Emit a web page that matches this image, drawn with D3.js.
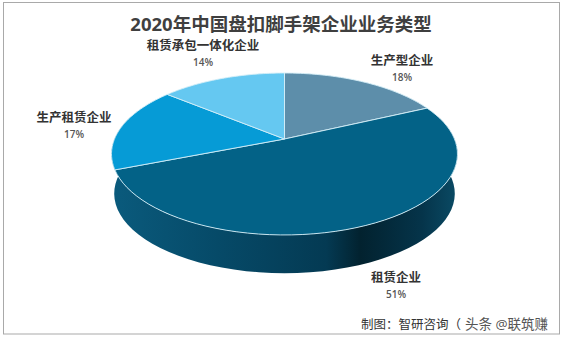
<!DOCTYPE html>
<html>

<head>
    <meta charset="utf-8">
    <title>2020年中国盘扣脚手架企业业务类型</title>
    <script src="https://d3js.org/d3.v7.min.js"></script>
    <style>
        html, body { margin: 0; padding: 0; background: #fff; overflow: hidden; }
        svg { display: block; }
        text { font-family: "Open Sans", "Noto Sans CJK SC", sans-serif; text-anchor: middle; }
        .title { font-size: 18.5px; font-weight: 700; fill: #3f3f3f; }
        .name { font-size: 12.5px; font-weight: 700; fill: #333; }
        .pct { font-size: 10px; font-weight: 600; fill: #555; }
        .source { font-size: 12.5px; fill: #333; text-anchor: start; }
        .mark { font-size: 13.5px; fill: #555; text-anchor: start; }
    </style>
</head>

<body>
    <svg id="chart" width="563" height="339"></svg>

    <script>
        const categories = ["生产型企业", "租赁企业", "生产租赁企业", "租赁承包一体化企业"];
        const shares = [18, 51, 17, 14];
        const colors = ["#5d8eaa", "#036287", "#069bd6", "#65c8f1"];
        const labelSpots = [[402, 61], [396, 278], [74, 118], [203, 46]];

        const svg = d3.select("#chart");

        svg.append("rect")
            .attr("x", 3.5).attr("y", 2.5)
            .attr("width", 556).attr("height", 331.5)
            .attr("fill", "#fff").attr("stroke", "#a9a9a9").attr("stroke-width", 1);

        // the pie is a tilted disc seen in perspective, apex sits above the ellipse centre
        const cx = 284.5, apexY = 139, k = 0.185, sx = 170, sy = 78.2, depth = 40;
        const rim = (a, r = 1, dy = 0) => {
            const X = r * Math.sin(a), Y = r * Math.cos(a), w = 1 + k * Y;
            return [cx + sx * X / w, apexY - sy * Y / w + dy];
        };
        const line = d3.line();
        const arcPts = (a0, a1, r, dy) => d3.range(0, 61).map(i => rim(a0 + (a1 - a0) * i / 60, r, dy));

        const defs = svg.append("defs");
        const grad = defs.append("linearGradient").attr("id", "side")
            .attr("gradientUnits", "userSpaceOnUse")
            .attr("x1", 115).attr("x2", 456).attr("y1", 0).attr("y2", 0);
        [[0, "#0a5a7c"], [0.3, "#064a68"], [0.62, "#043a53"], [0.72, "#02222f"], [0.9, "#05344a"], [1, "#0a4a64"]]
            .forEach(s => grad.append("stop").attr("offset", s[0]).attr("stop-color", s[1]));

        // side wall, only the front of the disc shows
        svg.append("path")
            .attr("d", line(arcPts(Math.PI * 0.4, Math.PI * 1.6, 1, 0).concat(arcPts(Math.PI * 1.6, Math.PI * 0.4, 0.985, depth))) + "Z")
            .attr("fill", "url(#side)");

        const pie = d3.pie().sort(null);
        const slices = pie(shares);

        svg.selectAll("path.slice").data(slices)
            .join("path")
            .attr("class", "slice")
            .attr("d", d => line([rim(0, 0)].concat(arcPts(d.startAngle, d.endAngle, 1, 0))) + "Z")
            .attr("fill", (d, i) => colors[i])
            .attr("stroke", "#d5eef7")
            .attr("stroke-width", 0.9)
            .attr("stroke-linejoin", "round");

        const labels = svg.selectAll("g.label").data(categories)
            .join("g").attr("class", "label");
        labels.append("text").attr("class", "name")
            .attr("x", (d, i) => labelSpots[i][0]).attr("y", (d, i) => labelSpots[i][1] + 4)
            .text(d => d);
        labels.append("text").attr("class", "pct")
            .attr("x", (d, i) => labelSpots[i][0]).attr("y", (d, i) => labelSpots[i][1] + 20)
            .text((d, i) => shares[i] + "%");

        svg.append("text").attr("class", "title")
            .attr("x", 274).attr("y", 31)
            .attr("dx", 7)
            .text("2020年中国盘扣脚手架企业业务类型");

        svg.append("text").attr("class", "source")
            .attr("x", 361).attr("y", 329)
            .text("制图：智研咨询（");
        svg.append("text").attr("class", "mark")
            .attr("x", 465).attr("y", 329)
            .text("头条 @联筑赚");
    </script>

</body>

</html>
